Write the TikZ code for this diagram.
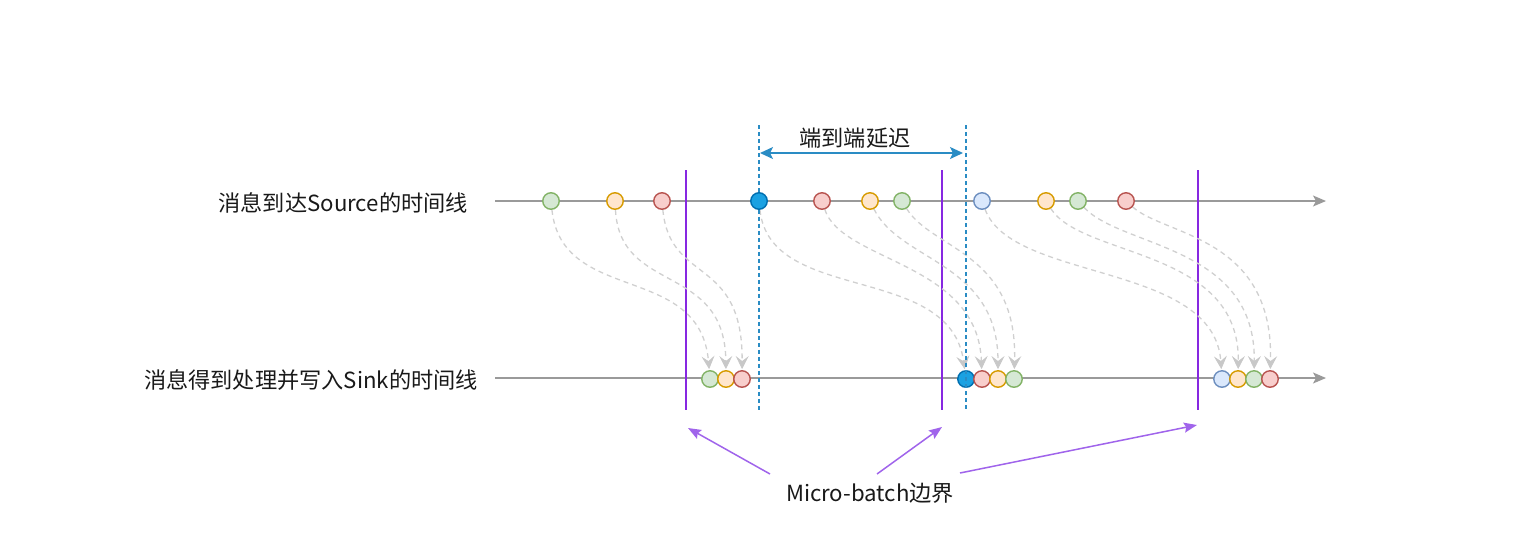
\documentclass[tikz,border=0pt]{standalone}
\usepackage{fontspec}
\setmainfont{Noto Sans CJK SC}
\usetikzlibrary{arrows.meta,backgrounds}
\definecolor{gfill}{HTML}{D5E8D4}\definecolor{gline}{HTML}{82B366}
\definecolor{ofill}{HTML}{FFE6CC}\definecolor{oline}{HTML}{D79B00}
\definecolor{rfill}{HTML}{F8CECC}\definecolor{rline}{HTML}{B85450}
\definecolor{bfill}{HTML}{DAE8FC}\definecolor{bline}{HTML}{6C8EBF}
\definecolor{dfill}{HTML}{1BA1E2}\definecolor{dline}{HTML}{006EAF}
\definecolor{tl}{HTML}{9A9A9A}
\definecolor{curve}{HTML}{D0D0D0}
\definecolor{curvetip}{HTML}{C8C8C8}
\definecolor{bound}{RGB}{135,40,225}
\definecolor{boundarrow}{RGB}{160,100,235}
\definecolor{lat}{HTML}{2A8CC4}
\tikzset{
  dot/.style={circle,minimum size=16.5pt,inner sep=0pt,line width=1.4pt},
  gdot/.style={dot,draw=gline,fill=gfill},
  odot/.style={dot,draw=oline,fill=ofill},
  rdot/.style={dot,draw=rline,fill=rfill},
  bdot/.style={dot,draw=bline,fill=bfill},
  ddot/.style={dot,draw=dline,fill=dfill},
  timeline/.style={draw=tl,line width=1.4pt,-{Stealth[length=13pt,width=11pt,inset=3pt]}},
  flow/.style={draw=curve,line width=1.3pt,dash pattern=on 5pt off 4pt,
    -{Stealth[length=13pt,width=13pt,inset=5pt,fill=curvetip,color=curvetip,line width=0.8pt]},shorten >=1pt},
  boundline/.style={draw=bound,line width=1.6pt},
  boundarrow/.style={draw=boundarrow,line width=1.5pt,-{Stealth[length=13pt,width=10pt,inset=2pt]}},
  latline/.style={draw=lat,line width=1.5pt,dash pattern=on 4pt off 3pt},
  latarrow/.style={draw=lat,line width=1.5pt,{Stealth[length=13pt,width=12pt,inset=3pt]}-{Stealth[length=13pt,width=12pt,inset=3pt]}},
  lbl/.style={font=\fontsize{22.2}{26}\selectfont,text=black!90,inner sep=0pt}
}
\begin{document}
\begin{tikzpicture}[x=1pt,y=-1pt]
\useasboundingbox (0,0) rectangle (1520,542);
% labels
\node[lbl,anchor=east] (srclbl) at (468,203) {消息到达Source的时间线};
\node[lbl,anchor=east] (snklbl) at (478,380) {消息得到处理并写入Sink的时间线};
\node[lbl] (latlbl) at (855,138) {端到端延迟};
\node[lbl] (mblbl) at (870,493) {Micro-batch边界};
% source dots
\node[gdot] (s1) at (551,201) {};
\node[odot] (s2) at (615,201) {};
\node[rdot] (s3) at (662,201) {};
\node[ddot] (s4) at (759,201) {};
\node[rdot] (s5) at (822,201) {};
\node[odot] (s6) at (870,201) {};
\node[gdot] (s7) at (902,201) {};
\node[bdot] (s8) at (982,201) {};
\node[odot] (s9) at (1046,201) {};
\node[gdot] (s10) at (1078,201) {};
\node[rdot] (s11) at (1126,201) {};
% sink dots
\node[gdot] (t1) at (710,379) {};
\node[odot] (t2) at (726,379) {};
\node[rdot] (t3) at (742,379) {};
\node[ddot] (t4) at (966,379) {};
\node[rdot] (t5) at (982,379) {};
\node[odot] (t6) at (998,379) {};
\node[gdot] (t7) at (1014,379) {};
\node[bdot] (t8) at (1222,379) {};
\node[odot] (t9) at (1238,379) {};
\node[gdot] (t10) at (1254,379) {};
\node[rdot] (t11) at (1270,379) {};
\begin{scope}[on background layer]
% timelines
\coordinate (s0) at (495,201); \coordinate (se) at (1326,201);
\coordinate (t0) at (495,378); \coordinate (te) at (1326,378);
\draw[timeline] (s0) -- (se);
\draw[timeline] (t0) -- (te);
% boundaries
\coordinate (b1t) at (686,170); \coordinate (b1b) at (686,410);
\coordinate (b2t) at (942,170); \coordinate (b2b) at (942,410);
\coordinate (b3t) at (1198,170); \coordinate (b3b) at (1198,410);
\draw[boundline] (b1t) -- (b1b);
\draw[boundline] (b2t) -- (b2b);
\draw[boundline] (b3t) -- (b3b);
% flows
\draw[flow] (s1) .. controls (562,305) and (700,262) .. (t1);
\draw[flow] (s2) .. controls (620,295) and (725,262) .. (t2);
\draw[flow] (s3) .. controls (670,285) and (743,255) .. (t3);
\draw[flow] (s4) .. controls (770,305) and (950,262) .. (t4);
\draw[flow] (s5) .. controls (842,262) and (978,262) .. (t5);
\draw[flow] (s6) .. controls (900,262) and (998,262) .. (t6);
\draw[flow] (s7) .. controls (932,250) and (1018,252) .. (t7);
\draw[flow] (s8) .. controls (1012,282) and (1214,262) .. (t8);
\draw[flow] (s9) .. controls (1082,258) and (1240,248) .. (t9);
\draw[flow] (s10) .. controls (1122,248) and (1256,245) .. (t10);
\draw[flow] (s11) .. controls (1165,236) and (1274,236) .. (t11);
\end{scope}
% latency markers
\coordinate (l1t) at (759,125); \coordinate (l1b) at (759,410);
\coordinate (l2t) at (966,125); \coordinate (l2b) at (966,410);
\draw[latline] (l1t) -- (s4.north);
\draw[latline] (s4.south) -- (l1b);
\draw[latline] (l2t) -- (l2b);
\coordinate (la) at (760,153); \coordinate (lb) at (963,153);
\draw[latarrow] (la) -- (lb);
% micro-batch arrows
\coordinate (m1) at (688,428); \coordinate (m2) at (942,427); \coordinate (m3) at (1197,425);
\coordinate (a1) at (770,474); \coordinate (a2) at (877,474); \coordinate (a3) at (960,473);
\draw[boundarrow] (a1) -- (m1);
\draw[boundarrow] (a2) -- (m2);
\draw[boundarrow] (a3) -- (m3);
\end{tikzpicture}
\end{document}
